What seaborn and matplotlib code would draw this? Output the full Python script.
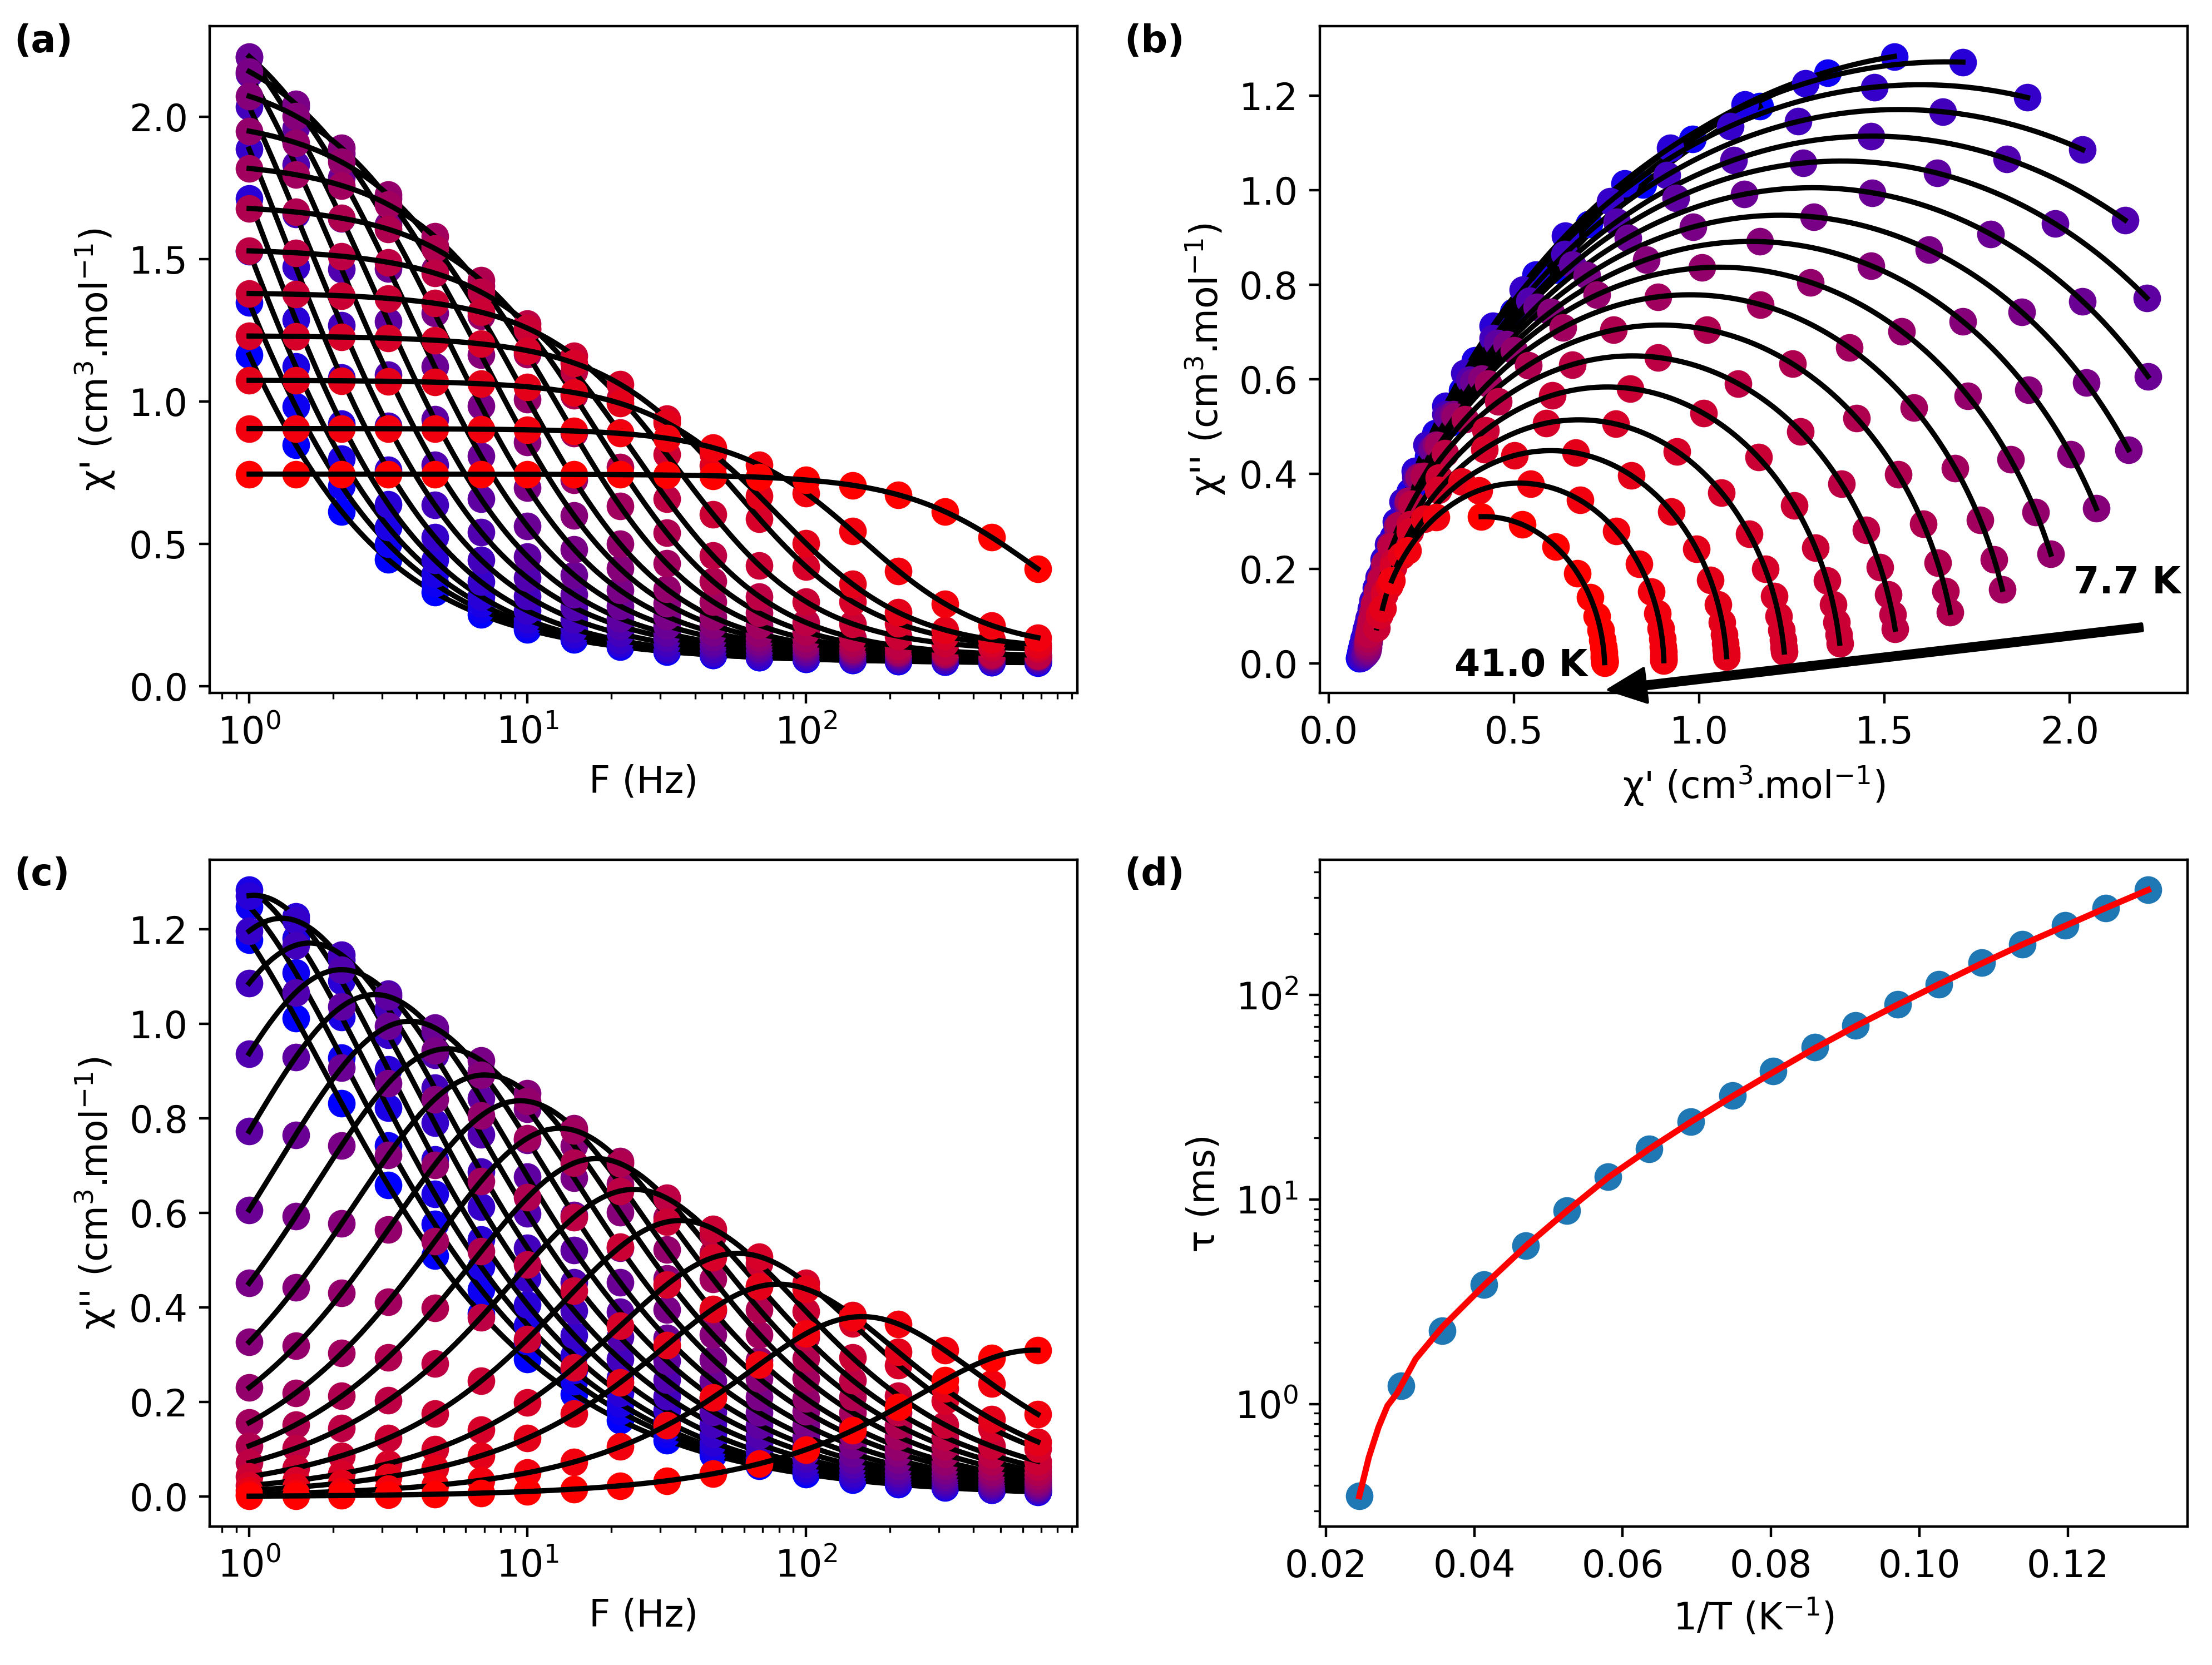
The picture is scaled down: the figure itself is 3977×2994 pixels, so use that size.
import numpy as np
import matplotlib
matplotlib.use("Agg")
import matplotlib.pyplot as plt
import seaborn as sns

plt.rcParams['font.size'] = 12

# ac frequencies (Hz)
freq = [1.0, 1.47, 2.15, 3.16, 4.64, 6.81, 10.0, 14.7, 21.5, 31.6,
        46.4, 68.1, 100.0, 147.0, 215.0, 316.0, 464.0, 681.0]

# panel (d): relaxation times vs 1/T, from 41.0 K (first) down to 7.7 K (last)
inv_T = [0.0245, 0.0301, 0.0357, 0.0413, 0.0469, 0.0525, 0.0580, 0.0636, 0.0692, 0.0748,
         0.0803, 0.0859, 0.0914, 0.0971, 0.1026, 0.1084, 0.1139, 0.1196, 0.1251, 0.1308]
tau_ms = [0.354, 1.226, 2.275, 3.84, 5.95, 8.85, 12.9, 17.7, 24.1, 32.3,
          42.5, 55.6, 71.1, 90.3, 113, 144, 177, 219, 267, 327]

# red fit line of panel (d)
fit_inv_T = [0.0245, 0.0258, 0.0271, 0.0283, 0.0296, 0.0321, 0.0357, 0.0413, 0.0469, 0.0525,
             0.0580, 0.0636, 0.0692, 0.0748, 0.0803, 0.0859, 0.0914, 0.0971, 0.1026, 0.1084,
             0.1139, 0.1196, 0.1251, 0.1308]
fit_tau = [0.354, 0.55, 0.77, 0.98, 1.13, 1.66, 2.38, 3.8, 5.9, 8.8,
           12.8, 17.7, 24.0, 32.0, 42.0, 55.0, 70.5, 90.0, 113, 143,
           177, 218, 267, 327]

# generalized Debye parameters of each fitted curve (same order as inv_T)
chi_T = [0.745, 0.905, 1.075, 1.232, 1.384, 1.54, 1.697, 1.851, 2.009, 2.179,
         2.34, 2.512, 2.675, 2.838, 2.99, 3.11, 3.25, 3.39, 3.53, 3.67]
chi_S = [0.095, 0.125, 0.125, 0.12, 0.12, 0.10, 0.10, 0.10, 0.10, 0.10,
         0.10, 0.10, 0.095, 0.095, 0.09, 0.085, 0.085, 0.085, 0.08, 0.08]
tau_fit_ms = [0.24, 1.0, 2.0, 2.8, 4.5, 6.6, 9.0, 12.2, 16.9, 22.7,
              30.9, 42.1, 56.2, 74.2, 96.6, 121.5, 153.0, 192.0, 242.0, 314.0]
alpha = [0.03, 0.015, 0.035, 0.049, 0.05, 0.065, 0.07, 0.074, 0.083, 0.097,
         0.106, 0.115, 0.123, 0.131, 0.135, 0.134, 0.138, 0.153, 0.174, 0.194]


def debye(f, chiT, chiS, tau, a):
    wt = 2 * np.pi * np.asarray(f) * tau
    u = wt ** (1 - a)
    s, c = np.sin(np.pi * a / 2), np.cos(np.pi * a / 2)
    d = 1 + 2 * u * s + u ** 2
    return chiS + (chiT - chiS) * (1 + u * s) / d, (chiT - chiS) * u * c / d


fig, axes = plt.subplots(2, 2, figsize=(3977 / 400, 2994 / 400))
fig.subplots_adjust(left=0.0948, right=0.9889, bottom=0.0832, top=0.9843,
                    wspace=0.2795, hspace=0.25)
ax_a, ax_b = axes[0]
ax_c, ax_d = axes[1]
ax_a.set_xscale('log')
ax_c.set_xscale('log')

pal = sns.blend_palette(['red', 'blue'], n_colors=len(inv_T))
f_fine = np.logspace(0, np.log10(freq[-1]), 300)

# coldest first, so the hot (red) data end up on top
for k in reversed(range(len(inv_T))):
    p1, p2 = debye(freq, chi_T[k], chi_S[k], tau_fit_ms[k] * 1e-3, alpha[k])
    l1, l2 = debye(f_fine, chi_T[k], chi_S[k], tau_fit_ms[k] * 1e-3, alpha[k])
    for ax, px, py, lx, ly in [(ax_a, freq, p1, f_fine, l1),
                               (ax_b, p1, p2, l1, l2),
                               (ax_c, freq, p2, f_fine, l2)]:
        sns.scatterplot(x=px, y=py, color=pal[k], s=80, linewidth=0, ax=ax, zorder=2)
        sns.lineplot(x=lx, y=ly, color='black', lw=1.7, ax=ax, sort=False,
                     estimator=None, zorder=2)

ax_a.set_xlabel('F (Hz)')
ax_a.set_ylabel("χ' (cm$^3$.mol$^{-1}$)")
ax_c.set_xlabel('F (Hz)')
ax_c.set_ylabel("χ'' (cm$^3$.mol$^{-1}$)")
ax_b.set_xlabel("χ' (cm$^3$.mol$^{-1}$)")
ax_b.set_ylabel("χ'' (cm$^3$.mol$^{-1}$)")

ax_b.annotate('', xy=(0.756, -0.056), xytext=(2.195, 0.076),
              arrowprops=dict(facecolor='black', edgecolor='black', width=2.2,
                              headwidth=11, headlength=12, shrink=0))
ax_b.text(2.155, 0.17, '7.7 K', fontweight='bold', ha='center', va='center')
ax_b.text(0.52, -0.005, '41.0 K', fontweight='bold', ha='center', va='center')

# panel (d)
sns.scatterplot(x=inv_T, y=tau_ms, color='#1f77b4', s=80, linewidth=0, ax=ax_d, zorder=2)
sns.lineplot(x=fit_inv_T, y=fit_tau, color='red', lw=2, ax=ax_d, zorder=3)
ax_d.set_yscale('log')
ax_d.set_xlabel('1/T (K$^{-1}$)')
ax_d.set_ylabel('τ (ms)')

for lab, x, y in [('(a)', 0.0063, 0.986), ('(b)', 0.5082, 0.986),
                  ('(c)', 0.0063, 0.4856), ('(d)', 0.5082, 0.4856)]:
    fig.text(x, y, lab, fontweight='bold', va='top', ha='left')

fig.savefig('out.png', dpi=400)
